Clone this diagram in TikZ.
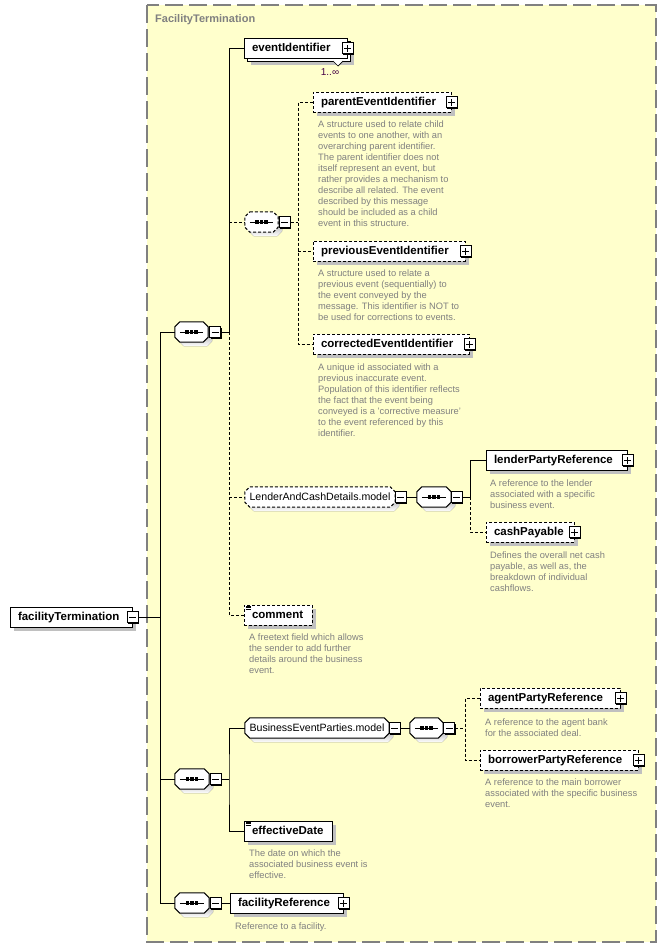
\documentclass[tikz,border=0pt]{standalone}
\usepackage{fontspec}
\setmainfont{Liberation Sans}
\usetikzlibrary{shadows}
\definecolor{panelfill}{RGB}{255,255,204}
\definecolor{shade}{RGB}{192,192,192}
\definecolor{annogray}{RGB}{128,128,128}
\definecolor{occ}{RGB}{70,0,70}
\tikzset{
  elem/.style={draw, fill=white, line width=1pt, minimum height=20pt, inner xsep=8pt, inner ysep=0pt,
    text width=#1, text height=8pt, text depth=1pt, align=left, font=\bfseries\fontsize{11.5}{13}\selectfont,
    drop shadow={shadow xshift=4pt, shadow yshift=-4pt, fill=shade, opacity=1}},
  backbox/.style={draw, fill=white, line width=1pt, minimum height=20pt, minimum width=#1, inner sep=0pt,
    drop shadow={shadow xshift=4pt, shadow yshift=-4pt, fill=shade, opacity=1}},
  opt/.style={dash pattern=on 3pt off 2pt},
  anno/.style={anchor=north west, inner sep=0pt, align=left, text=annogray, font=\fontsize{9.3}{11}\selectfont,
    execute at begin node={\rule{0pt}{7.5pt}}},
  conn/.style={line width=1pt},
  pm/.style={draw, fill=white, line width=1pt, minimum size=11pt, inner sep=0pt,
    drop shadow={shadow xshift=1pt, shadow yshift=-1pt, fill=black, opacity=1}},
  grp/.style={minimum height=20pt, inner sep=0pt, minimum width=#1},
  modeltext/.style={inner sep=0pt, text height=7.5pt, text depth=1pt, font=\fontsize{10.6}{12}\selectfont},
  paneltitle/.style={anchor=base west, inner sep=0pt, text=annogray, font=\bfseries\fontsize{11}{13}\selectfont},
}
\newcommand\octpath[3]{([shift={(#2+5pt,#3)}]#1.north west) -- ([shift={(#2-5pt,#3)}]#1.north east) -- ([shift={(#2,#3-5pt)}]#1.north east) -- ([shift={(#2,#3+5pt)}]#1.south east) -- ([shift={(#2-5pt,#3)}]#1.south east) -- ([shift={(#2+5pt,#3)}]#1.south west) -- ([shift={(#2,#3+5pt)}]#1.south west) -- ([shift={(#2,#3-5pt)}]#1.north west) -- cycle}
\newcommand\grpshape[2]{%
  \fill[shade] \octpath{#1}{4pt}{-4pt};
  \draw[fill=white, line width=1pt, #2] \octpath{#1}{0pt}{0pt};}
\newcommand\seqicon[1]{%
  \draw[line width=1pt] ([xshift=5pt]#1.west) -- ([xshift=-5pt]#1.east);
  \foreach \d in {-4.5,0,4.5} \fill ([xshift=\d pt]#1.center) +(-1.6pt,-1.6pt) rectangle +(1.6pt,1.6pt);}
\newcommand\plusbox[2]{%
  \node[pm] (#1) at (#2) {};
  \draw[line width=1pt] ([xshift=-3.5pt]#1.center) -- ([xshift=3.5pt]#1.center) ([yshift=-3.5pt]#1.center) -- ([yshift=3.5pt]#1.center);}
\newcommand\minusbox[2]{%
  \node[pm] (#1) at (#2) {};
  \draw[line width=1pt] ([xshift=-3.5pt]#1.center) -- ([xshift=3.5pt]#1.center);}
\newcommand\simpleicon[1]{%
  \foreach \k in {1.5,3,4.5} \draw[line width=0.8pt] ([shift={(2pt,-\k pt)}]#1.north west) -- ([shift={(7pt,-\k pt)}]#1.north west);}
\begin{document}
\begin{tikzpicture}[x=1pt, y=-1pt]
\useasboundingbox (0,0) rectangle (666,948);
\fill[white] (0,0) rectangle (666,948);
% panel
\draw[fill=panelfill, draw=annogray, line width=1.5pt, dash pattern=on 18pt off 6pt] (147,5) rectangle (656,942);
\node[paneltitle] (title) at (155,22) {FacilityTermination};

% root
\node[elem=106pt] (ftm) at (71,617) {facilityTermination};
\minusbox{ftmm}{ftm.east}

% sequence 1
\node[grp=33pt] (seq1) at (191.5,332) {};
\grpshape{seq1}{}
\seqicon{seq1}
\minusbox{m1}{215,332}
\coordinate (b1) at (229,332);

% eventIdentifier (stacked)
\node[backbox=103pt] (eib) at (298.5,51) {};
\node[draw, fill=white, line width=1pt, minimum height=20pt, inner xsep=8pt, inner ysep=0pt,
  text width=87pt, text height=8pt, text depth=1pt, align=left, font=\bfseries\fontsize{11.5}{13}\selectfont] (ei) at (295.5,48) {eventIdentifier};
\plusbox{eip}{ei.east}
\draw[line width=0.7pt, fill=white] (333,61) -- (338,66) -- (343,61);
\node[inner sep=0pt, text=occ, font=\fontsize{10}{12}\selectfont] (occ1) at (330,72) {1..∞};

% sequence 2 (optional)
\node[grp=33pt] (seq2) at (261.5,222) {};
\grpshape{seq2}{opt}
\seqicon{seq2}
\minusbox{m2}{284.5,222}
\coordinate (b2) at (298,222);

\node[elem=122pt, opt] (par) at (382,102) {parentEventIdentifier};
\plusbox{parp}{par.east}
\node[anno] (para) at (318,120.5) {A structure used to relate child\\events to one another, with an\\overarching parent identifier.\\The parent identifier does not\\itself represent an event, but\\rather provides a mechanism to\\describe all related. The event\\described by this message\\should be included as a child\\event in this structure.};

\node[elem=136pt, opt] (prv) at (389,251) {previousEventIdentifier};
\plusbox{prvp}{prv.east}
\node[anno] (prva) at (318,269.5) {A structure used to relate a\\previous event (sequentially) to\\the event conveyed by the\\message. This identifier is NOT to\\be used for corrections to events.};

\node[elem=140pt, opt] (cor) at (391,344) {correctedEventIdentifier};
\plusbox{corp}{cor.east}
\node[anno] (cora) at (318,363.5) {A unique id associated with a\\previous inaccurate event.\\Population of this identifier reflects\\the fact that the event being\\conveyed is a 'corrective measure'\\to the event referenced by this\\identifier.};

% LenderAndCashDetails.model
\node[grp=150pt] (lcd) at (320,497) {};
\grpshape{lcd}{opt}
\node[modeltext] (lcdt) at (lcd.center) {LenderAndCashDetails.model};
\minusbox{mL}{400.5,497}
\node[grp=34pt] (seqL) at (434,497) {};
\grpshape{seqL}{}
\seqicon{seqL}
\minusbox{mS}{456.5,497}
\coordinate (b3) at (470,497);

\node[elem=125pt] (lnd) at (556.5,460) {lenderPartyReference};
\plusbox{lndp}{lnd.east}
\node[anno] (lnda) at (490,479.5) {A reference to the lender\\associated with a specific\\business event.};

\node[elem=72pt, opt] (csh) at (530,532) {cashPayable};
\plusbox{cshp}{csh.east}
\node[anno] (csha) at (490,551.5) {Defines the overall net cash\\payable, as well as, the\\breakdown of individual\\cashflows.};

% comment
\node[elem=52pt, opt] (cmt) at (278,615) {comment};
\simpleicon{cmt}
\node[anno] (cmta) at (249,633.5) {A freetext field which allows\\the sender to add further\\details around the business\\event.};

% sequence 3
\node[grp=34pt] (seq3) at (192,779) {};
\grpshape{seq3}{}
\seqicon{seq3}
\minusbox{m3}{215.5,779}
\coordinate (b4) at (229,779);

\node[grp=144pt] (bep) at (317,728) {};
\grpshape{bep}{}
\node[modeltext] (bept) at (bep.center) {BusinessEventParties.model};
\minusbox{mB}{394.5,728}
\node[grp=33pt] (seqB) at (426.5,728) {};
\grpshape{seqB}{}
\seqicon{seqB}
\minusbox{mB2}{449,728}
\coordinate (b5) at (465,728);

\node[elem=124pt, opt] (agt) at (550,698) {agentPartyReference};
\plusbox{agtp}{agt.east}
\node[anno] (agta) at (485,718.5) {A reference to the agent bank\\for the associated deal.};

\node[elem=142pt, opt] (bor) at (559,760) {borrowerPartyReference};
\plusbox{borp}{bor.east}
\node[anno] (bora) at (485,778.5) {A reference to the main borrower\\associated with the specific business\\event.};

\node[elem=72pt] (eff) at (288,831) {effectiveDate};
\simpleicon{eff}
\node[anno] (effa) at (249,849.5) {The date on which the\\associated business event is\\effective.};

% sequence 4
\node[grp=34pt] (seq4) at (192,903) {};
\grpshape{seq4}{}
\seqicon{seq4}
\minusbox{m4}{215.5,903}
\node[elem=97pt] (frf) at (286.5,903) {facilityReference};
\plusbox{frfp}{frf.east}
\node[anno] (frfa) at (235,921.5) {Reference to a facility.};

% connectors
\coordinate (sp) at (160,617);
\draw[conn] (ftmm.east) -- (sp);
\draw[conn] (seq1.west) -| (sp);
\draw[conn] (seq4.west) -| (sp);
\draw[conn] (seq3.west) -- (seq3.west -| sp);

\draw[conn] (m1.east) -- (b1) |- (ei.west);
\draw[conn, opt] (b1) |- (cmt.west);
\draw[conn, opt] (seq2.west -| b1) -- (seq2.west);
\draw[conn, opt] (lcd.west -| b1) -- (lcd.west);

\draw[conn, opt] (m2.east) -- (b2);
\draw[conn, opt] (par.west) -| (b2) |- (cor.west);
\draw[conn, opt] (prv.west -| b2) -- (prv.west);

\draw[conn] (mL.east) -- (seqL.west);
\draw[conn] (mS.east) -- (b3) |- (lnd.west);
\draw[conn, opt] (b3) |- (csh.west);

\draw[conn] (m3.east) -- (b4);
\draw[conn] (bep.west) -| (b4) |- (eff.west);
\draw[conn] (mB.east) -- (seqB.west);
\draw[conn, opt] (mB2.east) -- (b5);
\draw[conn, opt] (agt.west) -| (b5) |- (bor.west);

\draw[conn] (m4.east) -- (frf.west);
\end{tikzpicture}
\end{document}
